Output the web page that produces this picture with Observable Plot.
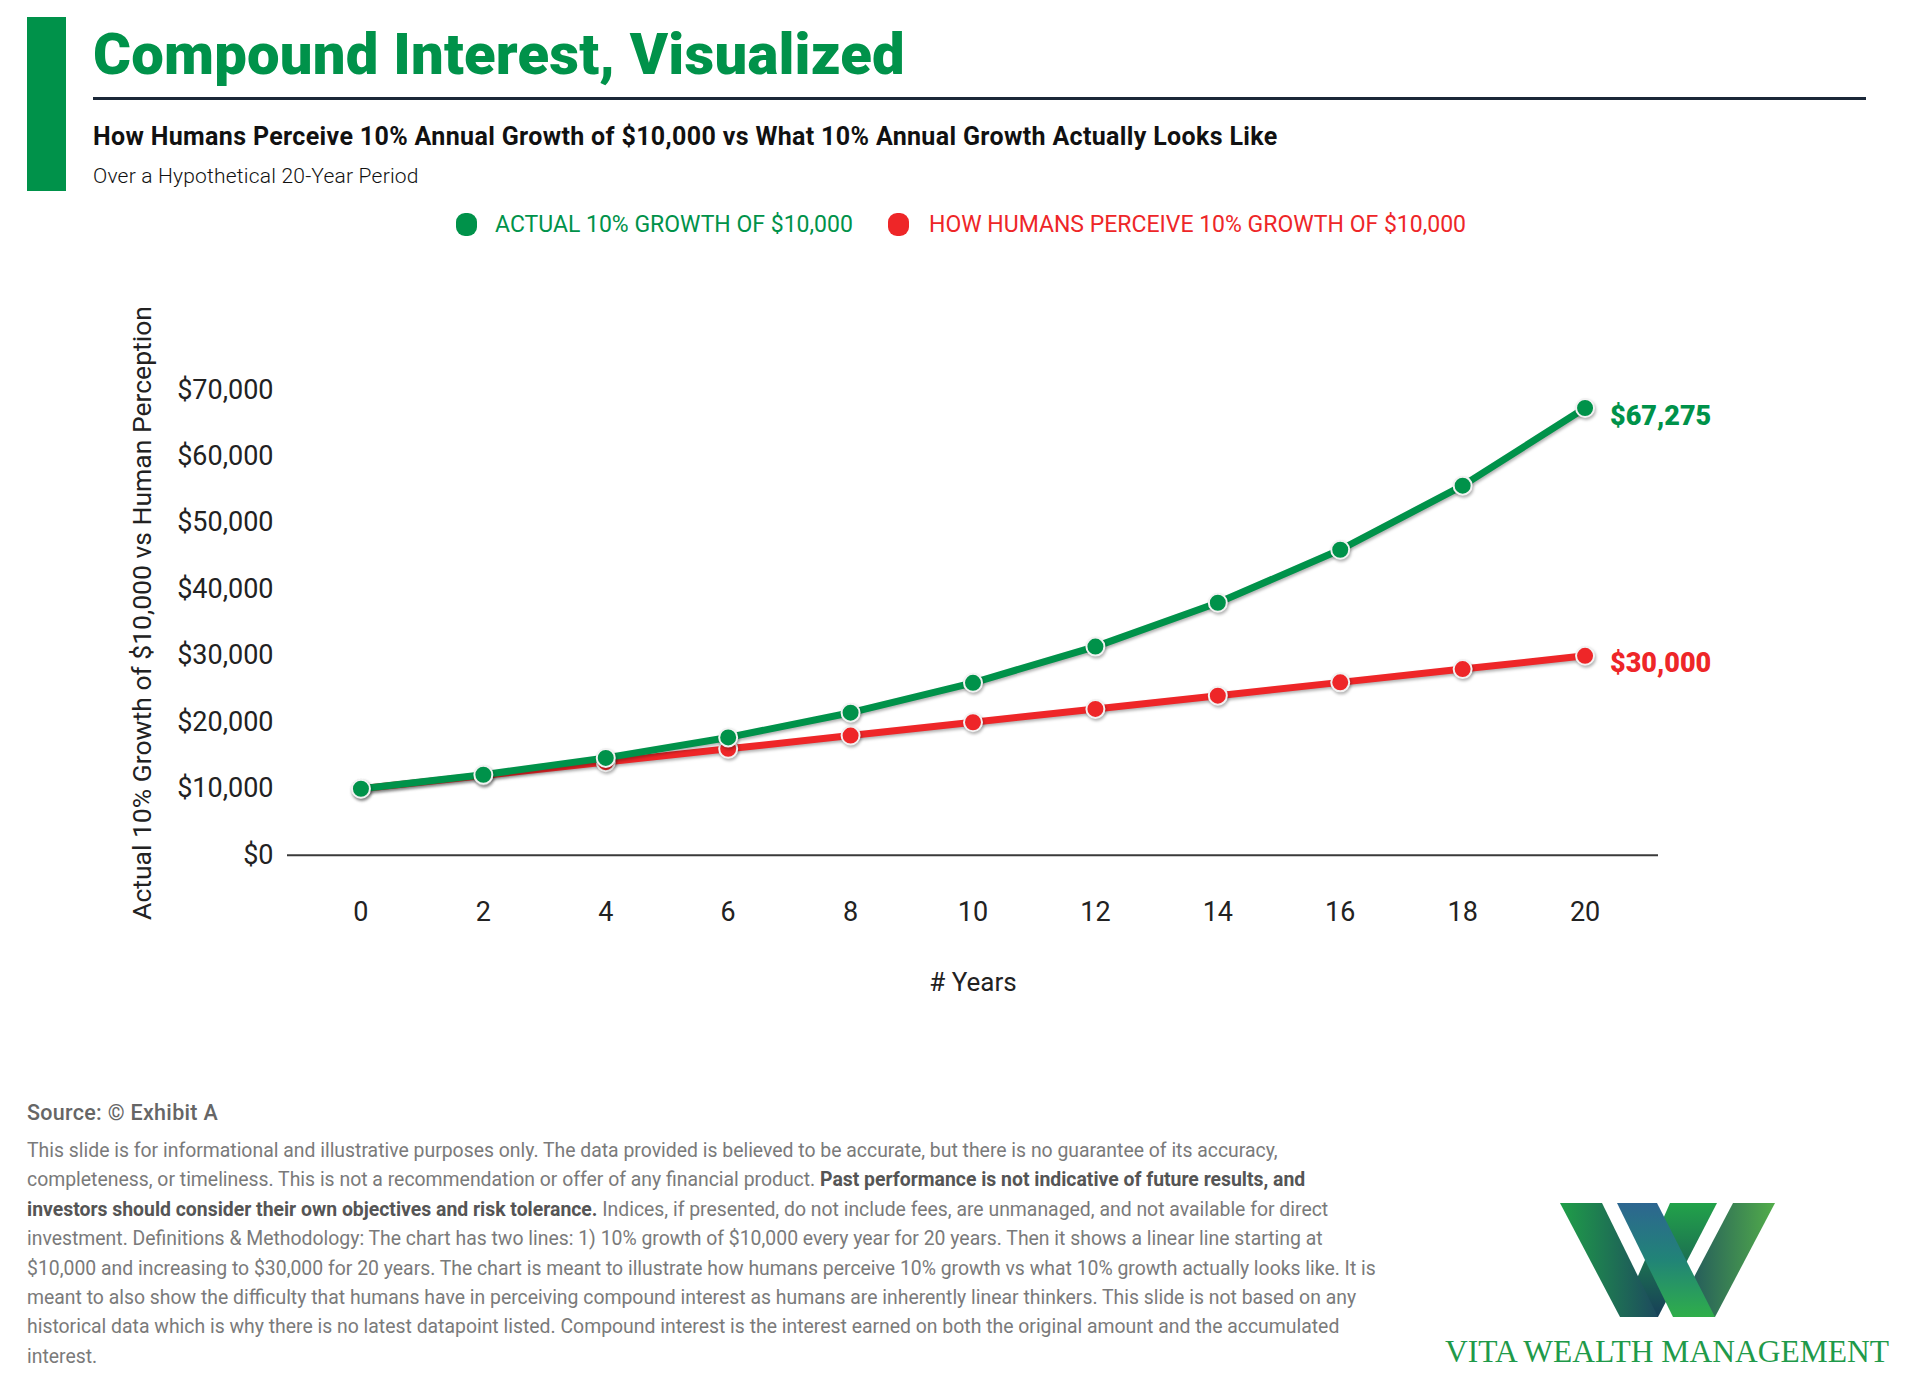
<!DOCTYPE html>
<html>
<head>
<meta charset="utf-8">
<script src="https://cdn.jsdelivr.net/npm/d3@7"></script>
<script src="https://cdn.jsdelivr.net/npm/@observablehq/plot@0.6"></script>
<style>
  html, body { margin: 0; padding: 0; background: #fff; }
  body { width: 1920px; height: 1387px; position: relative; overflow: hidden; font-family: Roboto, "Noto Sans", sans-serif; }
  .abs { position: absolute; white-space: nowrap; line-height: 1; }
  #bar { left: 27px; top: 17px; width: 39px; height: 174px; background: #00924a; }
  #title { left: 93px; top: 25px; font-size: 58px; font-weight: 900; color: #00924a; letter-spacing: 0.2px; }
  #rule { left: 93px; top: 97px; width: 1773px; height: 2.5px; background: #1b2838; }
  #subtitle { left: 93px; top: 124px; font-size: 25px; font-weight: 700; color: #111; letter-spacing: 0.35px; }
  #subsub { left: 93px; top: 166px; font-size: 21px; font-weight: 300; color: #111; letter-spacing: 0.2px; }
  #legend { left: 0; top: 213px; width: 1920px; height: 24px; }
  .lg { position: absolute; top: 0; font-size: 23px; font-weight: 400; letter-spacing: 0; line-height: 24px; white-space: nowrap; }
  .sw { position: absolute; width: 21px; height: 23px; border-radius: 9px; top: 0; }
  #ylabel { left: 142px; top: 613px; font-size: 26.5px; color: #222; transform: translate(-50%, -50%) rotate(-90deg); }
  #chart { position: absolute; left: 0; top: 240px; }
  #chart svg g[aria-label="line"], #chart svg g[aria-label="dot"] { filter: drop-shadow(1px 2px 1.5px rgba(0,0,0,0.3)); }
  #source { left: 27px; top: 1102px; font-size: 21.5px; font-weight: 500; color: #666; letter-spacing: 0.3px; }
  #disc { left: 27px; top: 1136px; font-size: 19.4px; font-weight: 400; color: #7a7a7a; line-height: 29.4px; letter-spacing: 0; }
  #disc b { font-weight: 700; color: #555; }
  #logo { position: absolute; left: 1430px; top: 1190px; }
</style>
</head>
<body>
<div id="bar" class="abs"></div>
<div id="title" class="abs"></div>
<div id="rule" class="abs"></div>
<div id="subtitle" class="abs"></div>
<div id="subsub" class="abs"></div>
<div id="legend" class="abs"></div>
<div id="chart"></div>
<div id="ylabel" class="abs"></div>
<div id="source" class="abs"></div>
<div id="disc" class="abs"></div>
<svg id="logo" width="480" height="190" viewBox="1430 1190 480 190">
  <defs>
    <linearGradient id="g1" x1="0" y1="0" x2="1" y2="0">
      <stop offset="0" stop-color="#1f9e48"/><stop offset="1" stop-color="#1d4a5e"/>
    </linearGradient>
    <linearGradient id="g2" x1="0" y1="0" x2="0" y2="1">
      <stop offset="0" stop-color="#22a24a"/><stop offset="1" stop-color="#173f58"/>
    </linearGradient>
    <linearGradient id="g3" x1="0" y1="0" x2="0" y2="1">
      <stop offset="0" stop-color="#2d6690"/><stop offset="0.5" stop-color="#218477"/><stop offset="1" stop-color="#2fae4a"/>
    </linearGradient>
    <linearGradient id="g4" x1="0" y1="0" x2="1" y2="0">
      <stop offset="0" stop-color="#1b4a5f"/><stop offset="1" stop-color="#52ad4a"/>
    </linearGradient>
  </defs>
  <polygon points="1670,1203 1717,1203 1658,1317 1620,1317" fill="url(#g2)"/>
  <polygon points="1733,1203 1775,1203 1715,1317 1673,1317" fill="url(#g4)"/>
  <polygon points="1560,1203 1602,1203 1658,1317 1620,1317" fill="url(#g1)"/>
  <polygon points="1617,1203 1657,1203 1715,1317 1673,1317" fill="url(#g3)"/>
  <text x="1445" y="1362" textLength="444" lengthAdjust="spacingAndGlyphs" font-family="'Liberation Serif', 'DejaVu Serif', serif" font-size="31" fill="#1f9a4a">VITA WEALTH MANAGEMENT</text>
</svg>
<script>
// ---- data ----
const years = [0, 2, 4, 6, 8, 10, 12, 14, 16, 18, 20];
const actualValues = [10000, 12100, 14641, 17716, 21436, 25937, 31384, 37975, 45950, 55599, 67275];
const perceivedValues = [10000, 12000, 14000, 16000, 18000, 20000, 22000, 24000, 26000, 28000, 30000];
const yTicks = [0, 10000, 20000, 30000, 40000, 50000, 60000, 70000];
const seriesNames = ["ACTUAL 10% GROWTH OF $10,000", "HOW HUMANS PERCEIVE 10% GROWTH OF $10,000"];
const seriesColors = ["#00924a", "#ee2628"];
const endLabels = ["$67,275", "$30,000"];
const titleText = "Compound Interest, Visualized";
const subtitleText = "How Humans Perceive 10% Annual Growth of $10,000 vs What 10% Annual Growth Actually Looks Like";
const subsubText = "Over a Hypothetical 20-Year Period";
const yLabel = "Actual 10% Growth of $10,000 vs Human Perception";
const xLabel = "# Years";
const sourceText = "Source: © Exhibit A";
const disclaimerLines = [
  "This slide is for informational and illustrative purposes only. The data provided is believed to be accurate, but there is no guarantee of its accuracy,",
  "completeness, or timeliness. This is not a recommendation or offer of any financial product. <b>Past performance is not indicative of future results, and</b>",
  "<b>investors should consider their own objectives and risk tolerance.</b> Indices, if presented, do not include fees, are unmanaged, and not available for direct",
  "investment. Definitions &amp; Methodology: The chart has two lines: 1) 10% growth of $10,000 every year for 20 years. Then it shows a linear line starting at",
  "$10,000 and increasing to $30,000 for 20 years. The chart is meant to illustrate how humans perceive 10% growth vs what 10% growth actually looks like. It is",
  "meant to also show the difficulty that humans have in perceiving compound interest as humans are inherently linear thinkers. This slide is not based on any",
  "historical data which is why there is no latest datapoint listed. Compound interest is the interest earned on both the original amount and the accumulated",
  "interest."
];

// ---- text ----
document.getElementById("title").textContent = titleText;
document.getElementById("subtitle").textContent = subtitleText;
document.getElementById("subsub").textContent = subsubText;
document.getElementById("ylabel").textContent = yLabel;
document.getElementById("source").textContent = sourceText;
document.getElementById("disc").innerHTML = disclaimerLines.join("<br>");

// legend
const legend = document.getElementById("legend");
const legendPos = [{sw: 456, tx: 495}, {sw: 888, tx: 929}];
seriesNames.forEach((name, i) => {
  const sw = document.createElement("div");
  sw.className = "sw";
  sw.style.left = legendPos[i].sw + "px";
  sw.style.background = seriesColors[i];
  legend.appendChild(sw);
  const t = document.createElement("div");
  t.className = "lg";
  t.style.left = legendPos[i].tx + "px";
  t.style.color = seriesColors[i];
  t.textContent = name;
  legend.appendChild(t);
});

// ---- chart ----
const actual = years.map((yr, i) => ({year: yr, value: actualValues[i]}));
const perceived = years.map((yr, i) => ({year: yr, value: perceivedValues[i]}));
const ends = [
  {year: years[years.length - 1], value: actualValues[actualValues.length - 1], label: endLabels[0], color: seriesColors[0]},
  {year: years[years.length - 1], value: perceivedValues[perceivedValues.length - 1], label: endLabels[1], color: seriesColors[1]}
];

const fmt = d3.format(",");
const chart = Plot.plot({
  width: 1920,
  height: 800,
  marginLeft: 287,
  marginRight: 262,
  marginTop: 149.4,
  marginBottom: 185.3,
  style: {fontFamily: "Roboto, sans-serif", fontSize: "27px", color: "#222", background: "transparent", overflow: "visible"},
  x: {domain: [-1.2, 21.2], ticks: years, tickSize: 0, tickPadding: 47, label: null, tickFormat: d => String(d)},
  y: {domain: [0, 70000], ticks: yTicks, tickSize: 0, tickPadding: 14, label: null, tickFormat: d => "$" + fmt(d)},
  marks: [
    Plot.ruleY([0], {stroke: "#3a3a3a", strokeWidth: 2}),
    Plot.line(perceived, {x: "year", y: "value", stroke: seriesColors[1], strokeWidth: 7}),
    Plot.dot(perceived, {x: "year", y: "value", r: 9, fill: seriesColors[1], stroke: "#f2f2f2", strokeWidth: 2}),
    Plot.line(actual, {x: "year", y: "value", stroke: seriesColors[0], strokeWidth: 7}),
    Plot.dot(actual, {x: "year", y: "value", r: 9, fill: seriesColors[0], stroke: "#f2f2f2", strokeWidth: 2}),
    Plot.text(ends, {x: "year", y: "value", text: "label", fill: "color", dx: 25, dy: 8, textAnchor: "start", fontWeight: 900, fontSize: 27}),
    Plot.text([xLabel], {frameAnchor: "bottom", dy: 136, fontSize: 26, fill: "#222"})
  ]
});
document.getElementById("chart").appendChild(chart);
</script>
</body>
</html>
